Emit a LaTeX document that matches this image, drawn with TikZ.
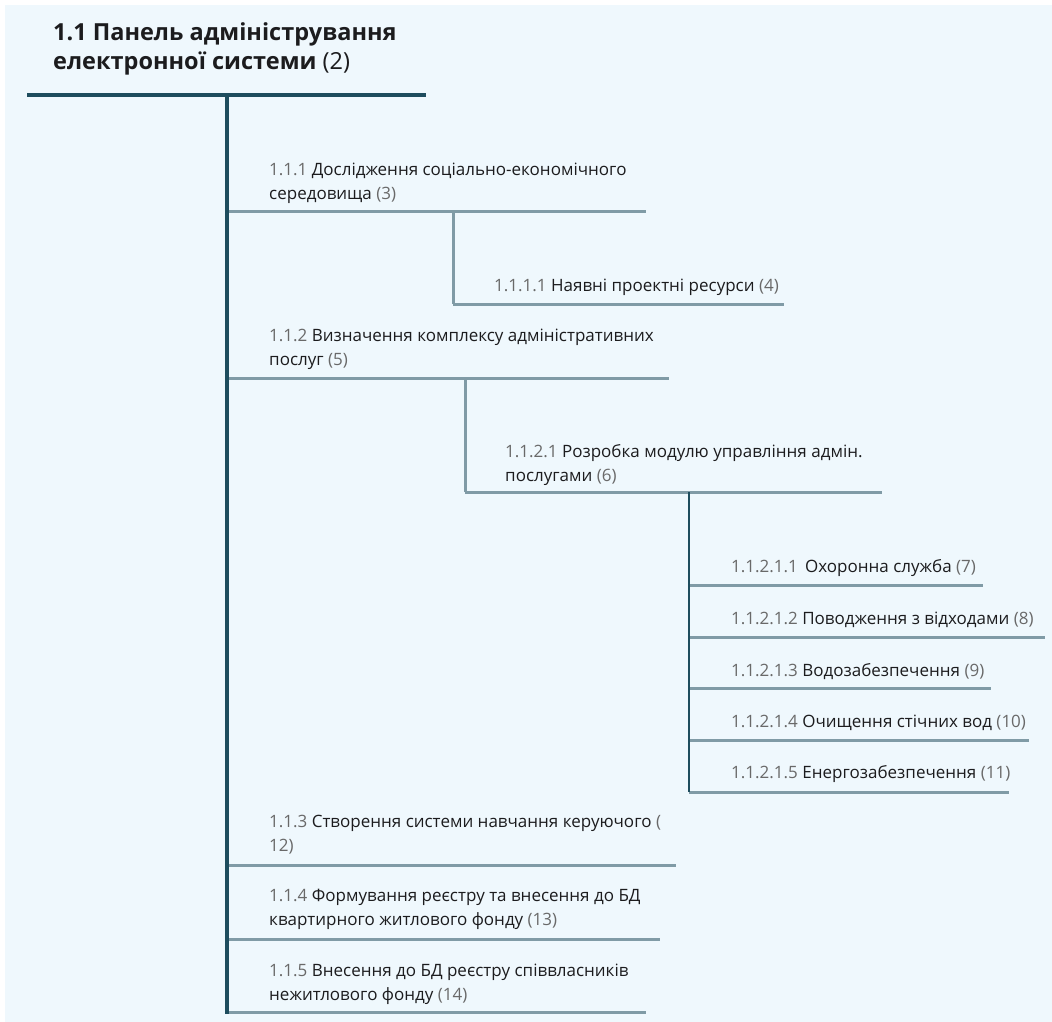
\documentclass[tikz,border=0pt]{standalone}
\usepackage{fontspec}
\setmainfont{Open Sans}
\definecolor{pagebg}{RGB}{239,248,253}
\definecolor{trunk}{RGB}{30,77,94}
\definecolor{branch}{RGB}{128,155,166}
\definecolor{ink}{RGB}{28,28,30}
\definecolor{numgray}{RGB}{105,105,105}
\newcommand{\nm}[1]{\textcolor{numgray}{#1}}
% labels are placed at the baseline of their last line
\tikzset{
  lbl/.style={anchor=base west, inner sep=0pt, align=left, text=ink,
              font=\fontsize{17}{24}\selectfont},
  ttl/.style={anchor=base west, inner sep=0pt, align=left, text=ink,
              font=\fontsize{23.5}{29}\selectfont},
  mainline/.style={draw=trunk, line width=4pt},
  subline/.style={draw=branch, line width=3pt},
  thinline/.style={draw=trunk, line width=2.4pt},
}
\begin{document}
\begin{tikzpicture}[x=1pt, y=-1pt]
  % page
  \fill[white] (0,0) rectangle (1052,1022);
  \fill[pagebg] (5,5) rectangle (1052,1022);
  \useasboundingbox (0,0) rectangle (1052,1022);

  % title
  \node[ttl] (root) at (53,70) {\textbf{1.1 Панель адміністрування}\\\textbf{електронної системи} (2)};
  \coordinate (rootL) at (27,95);
  \coordinate (rootR) at (426,95);
  \coordinate (trunkTop) at (227,95);
  \coordinate (trunkBot) at (227,1014);

  % level 1 labels
  \node[lbl] (a1) at (269,199) {\nm{1.1.1} Дослідження соціально-економічного\\середовища \nm{(3)}};
  \node[lbl] (a2) at (269,365) {\nm{1.1.2} Визначення комплексу адміністративних\\послуг \nm{(5)}};
  \node[lbl] (a3) at (269,851) {\nm{1.1.3} Створення системи навчання керуючого \nm{(}\\\nm{12)}};
  \node[lbl] (a4) at (269,925) {\nm{1.1.4} Формування реєстру та внесення до БД\\квартирного житлового фонду \nm{(13)}};
  \node[lbl] (a5) at (269,1000) {\nm{1.1.5} Внесення до БД реєстру співвласників\\нежитлового фонду \nm{(14)}};

  % level 2 labels
  \node[lbl] (b1) at (494,291) {\nm{1.1.1.1} Наявні проектні ресурси \nm{(4)}};
  \node[lbl] (b2) at (505,481) {\nm{1.1.2.1} Розробка модулю управління адмін.\\послугами \nm{(6)}};

  % level 3 labels
  \node[lbl] (c1) at (731,572) {\nm{1.1.2.1.1}\, Охоронна служба \nm{(7)}};
  \node[lbl] (c2) at (731,624) {\nm{1.1.2.1.2} Поводження з відходами \nm{(8)}};
  \node[lbl] (c3) at (731,676) {\nm{1.1.2.1.3} Водозабезпечення \nm{(9)}};
  \node[lbl] (c4) at (731,727) {\nm{1.1.2.1.4} Очищення стічних вод \nm{(10)}};
  \node[lbl] (c5) at (731,778) {\nm{1.1.2.1.5} Енергозабезпечення \nm{(11)}};

  % underline end points
  \coordinate (a1L) at (227,211); \coordinate (a1R) at (646,211);
  \coordinate (a2L) at (227,378); \coordinate (a2R) at (669,378);
  \coordinate (a3L) at (227,865); \coordinate (a3R) at (676,865);
  \coordinate (a4L) at (227,939); \coordinate (a4R) at (660,939);
  \coordinate (a5L) at (227,1012); \coordinate (a5R) at (646,1012);

  \coordinate (b1T) at (453,211);
  \coordinate (b1L) at (453,304); \coordinate (b1R) at (784,304);
  \coordinate (b2T) at (465,378);
  \coordinate (b2L) at (465,492); \coordinate (b2R) at (882,492);

  \coordinate (cT) at (689,492);
  \coordinate (c1L) at (689,585); \coordinate (c1R) at (983,585);
  \coordinate (c2L) at (689,637); \coordinate (c2R) at (1045,637);
  \coordinate (c3L) at (689,688); \coordinate (c3R) at (991,688);
  \coordinate (c4L) at (689,740); \coordinate (c4R) at (1029,740);
  \coordinate (c5L) at (689,792); \coordinate (c5R) at (1009,792);

  % branch lines
  \foreach \n in {a1,a2,a3,a4,a5,b1,b2}{\draw[subline] (\n L) -- (\n R);}
  \foreach \n in {c1,c2,c3,c4,c5}{\draw[subline] (\n L) -- (\n R);}
  \draw[subline] (b1T) -- (b1L);
  \draw[subline] (b2T) -- (b2L);
  \draw[thinline] (cT) -- (c5L);

  % trunk
  \draw[mainline] (rootL) -- (rootR);
  \draw[mainline] (trunkTop) -- (trunkBot);
\end{tikzpicture}
\end{document}
